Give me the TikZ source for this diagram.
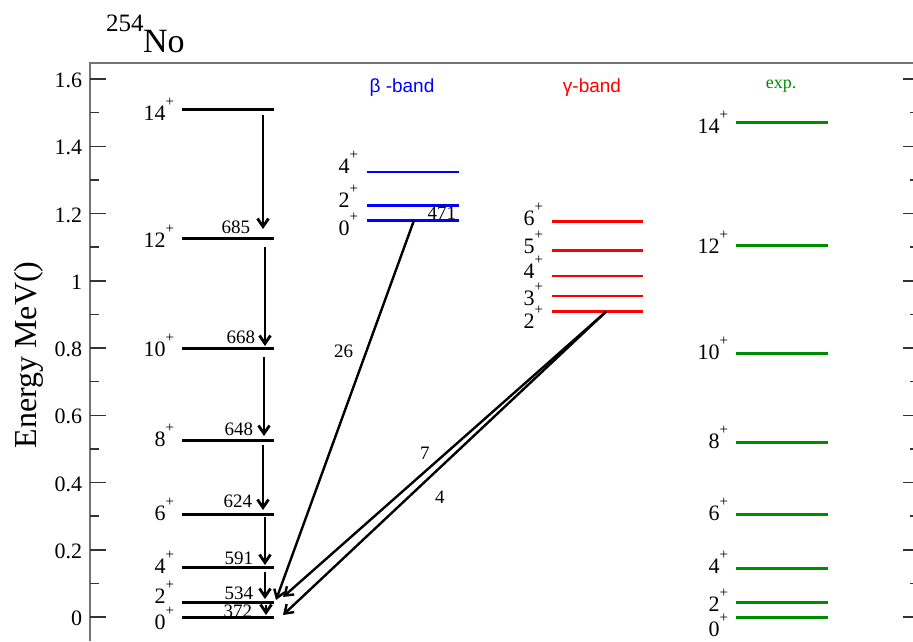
\documentclass[tikz,border=0pt]{standalone}
\usepackage{fontspec}
\setmainfont{Liberation Serif}
\newfontfamily\sansf{Liberation Sans}
\usetikzlibrary{arrows.meta}
\definecolor{expgreen}{RGB}{0,140,0}
\newcommand\pls{\raisebox{14pt}{\fontsize{15}{15}\selectfont +}}
\begin{document}
\begin{tikzpicture}[x=1pt,y=-1pt,
 every node/.style={inner sep=0pt, outer sep=0pt},
 jlab/.style={anchor=base east, font=\fontsize{22}{24}\selectfont},
 elab/.style={anchor=base east, font=\fontsize{19}{21}\selectfont},
 nlab/.style={anchor=base west, font=\fontsize{19}{21}\selectfont},
 ticklab/.style={anchor=east, font=\fontsize{22}{24}\selectfont},
 gs/.style={line width=3pt, black},
 bs/.style={line width=2.6pt, blue},
 rs/.style={line width=2.6pt, red},
 es/.style={line width=2.6pt, expgreen},
 tr/.style={line width=2.8pt, -{Straight Barb[length=8pt,width=11pt]}},
 dtr/.style={line width=2.4pt, -{Straight Barb[length=8pt,width=11pt]}},
 axisline/.style={line width=1.2pt, black!55},
 tickline/.style={line width=1.5pt, black!80},
]
\useasboundingbox (0,0) rectangle (913,641);
% frame
\draw[axisline] (90,641) -- (90,63) -- (913,63);
\foreach \v/\t in {0/0,1/0.2,2/0.4,3/0.6,4/0.8,5/1,6/1.2,7/1.4,8/1.6}{
  \draw[tickline] (90,{617-\v*67.25}) -- (106,{617-\v*67.25});
  \draw[tickline] (903,{617-\v*67.25}) -- (913,{617-\v*67.25});
  \node[ticklab] (tk\v) at (82,{618.5-\v*67.25}) {\t};
}
\foreach \v in {0,...,7}{
  \draw[tickline] (90,{617-(\v+0.5)*67.25}) -- (99,{617-(\v+0.5)*67.25});
  \draw[tickline] (910,{617-(\v+0.5)*67.25}) -- (913,{617-(\v+0.5)*67.25});
}
% titles
\node[anchor=base west, font=\fontsize{25}{27}\selectfont] (mass) at (106,31) {254};
\node[anchor=base west, font=\fontsize{34}{36}\selectfont] (elem) at (143,52) {No};
\node[rotate=90, anchor=base, font=\fontsize{32}{34}\selectfont] (ylab) at (36,355) {Energy MeV()};
\node[anchor=base, font=\sansf\fontsize{19}{21}\selectfont, text=blue] (hb) at (402,92) {β -band};
\node[anchor=base, font=\sansf\fontsize{19}{21}\selectfont, text=red] (hg) at (592,92) {γ-band};
\node[anchor=base, font=\fontsize{18}{20}\selectfont, text=expgreen] (he) at (781,88) {exp.};
% ground band
\foreach \j/\y/\b in {14/109/120,12/238.7/247,10/348.3/356,8/440.7/446,6/514/520,4/567.7/573,2/602/603,0/617.3/629}{
  \draw[gs] (182,\y) -- (274,\y);
  \node[jlab] (gj\j) at (174,\b) {\j\pls};
}
\foreach \n/\x/\s/\e in {14/263/115/229,12/265/247/346,10/264/357/436,8/263/445/510,6/265/517/565,4/265/572/599,2/266/605/615}{
  \coordinate (ts\n) at (\x,\s);
  \coordinate (te\n) at (\x,\e);
  \draw[tr] (ts\n) -- (te\n);
}
\foreach \t/\x/\b in {685/250/233,668/255/343,648/253/435,624/252/507,591/253/564,534/253/599,372/252/617}{
  \node[elab] (e\t) at (\x,\b) {\t};
}
% beta band
\foreach \j/\y/\b in {4/172/173,2/205.3/207,0/220.3/235}{
  \draw[bs] (367,\y) -- (459,\y);
  \node[jlab] (bj\j) at (358,\b) {\j\pls};
}
\node[elab] (e471) at (456,219) {471};
% gamma band
\foreach \j/\y/\b in {6/221.3/225,5/250.7/253,4/276/278,3/296/305,2/311.3/328}{
  \draw[rs] (552,\y) -- (643,\y);
  \node[jlab] (rj\j) at (543,\b) {\j\pls};
}
% experiment
\foreach \j/\y/\b in {14/122.7/133,12/245.7/253,10/353.3/359,8/442.7/448,6/514.3/520,4/568.3/573,2/602.3/611,0/617.3/636}{
  \draw[es] (736,\y) -- (828,\y);
  \node[jlab] (xj\j) at (728,\b) {\j\pls};
}
% interband transitions
\coordinate (bs0) at (414,220.3);
\coordinate (bt0) at (276,600);
\draw[dtr] (bs0) -- (bt0);
\coordinate (gs2) at (606,311.7);
\coordinate (gt2) at (283,597);
\coordinate (gt0) at (283,615);
\draw[dtr] (gs2) -- (gt2);
\draw[dtr] (gs2) -- (gt0);
\node[nlab] (l26) at (334,357) {26};
\node[nlab] (l7) at (420,459) {7};
\node[nlab] (l4) at (435,503) {4};
\end{tikzpicture}
\end{document}
